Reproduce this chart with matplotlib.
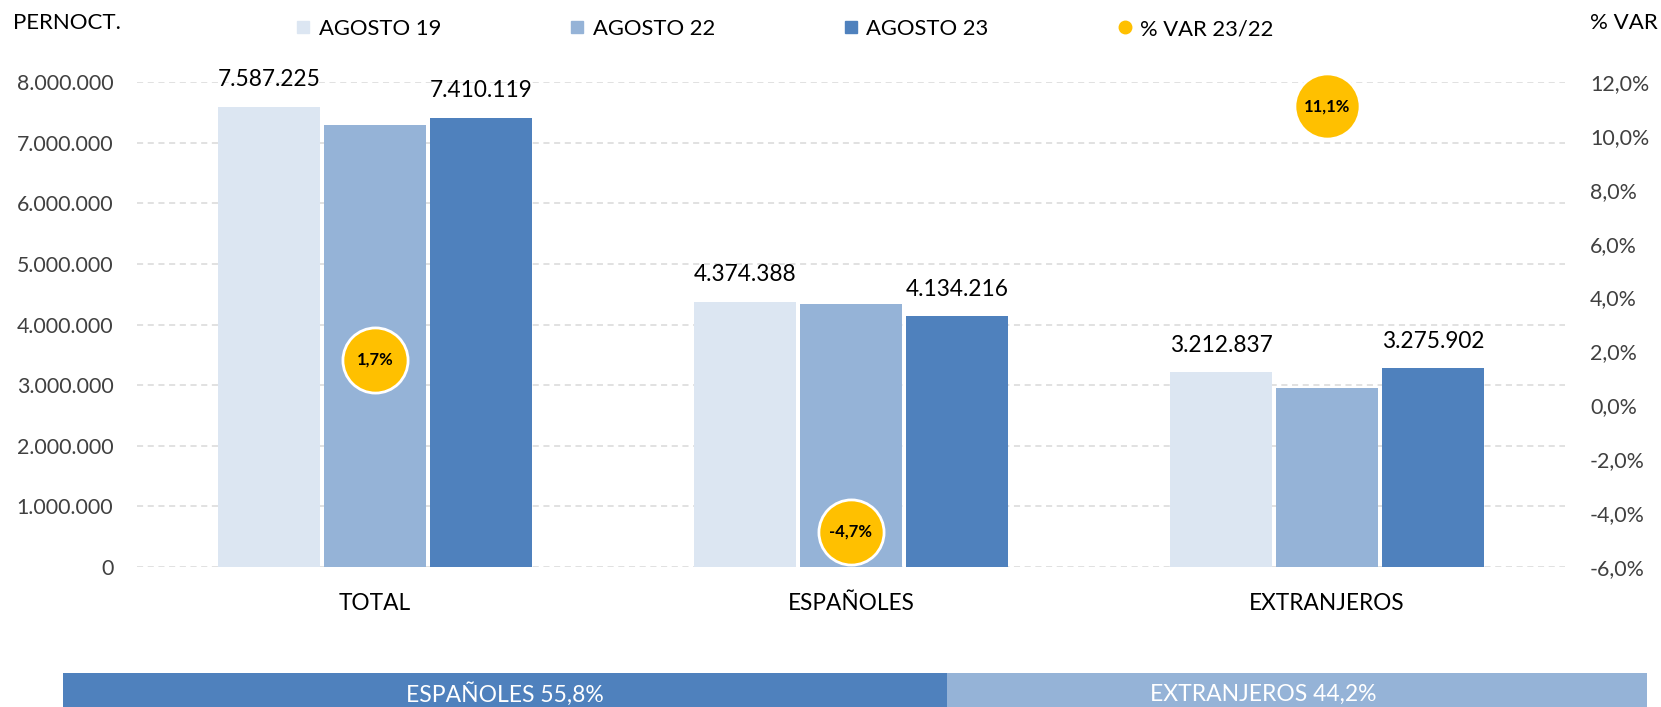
import matplotlib
matplotlib.use("Agg")
import matplotlib.pyplot as plt
from matplotlib.lines import Line2D
import numpy as np

plt.rcParams['font.family'] = ['Lato', 'DejaVu Sans']

categories = ["TOTAL", "ESPAÑOLES", "EXTRANJEROS"]
series_names = ["AGOSTO 19", "AGOSTO 22", "AGOSTO 23"]
ago19 = [7587225, 4374388, 3212837]
ago22 = [7286000, 4338000, 2949000]
ago23 = [7410119, 4134216, 3275902]
var_name = "% VAR 23/22"
var_pct = [1.7, -4.7, 11.1]
share_labels = ["ESPAÑOLES", "EXTRANJEROS"]
share_vals = [55.8, 44.2]

left_ticks = list(range(0, 8000001, 1000000))
right_ticks = list(range(-6, 13, 2))

colors = ["#DCE6F2", "#95B3D7", "#4F81BD"]
gold = "#FFC000"

def fmt_thousands(v):
    return f"{int(v):,}".replace(",", ".")

def fmt_pct(v):
    return f"{v:.1f}%".replace(".", ",")

W, H = 1661, 707
fig = plt.figure(figsize=(W / 100, H / 100), dpi=100)
ax = fig.add_axes([137 / W, 1 - 567 / H, (1565 - 137) / W, (567 - 82) / H])

x = np.arange(len(categories))
off = 0.2227
bw = 0.213
series = [ago19, ago22, ago23]
for i, (vals, c) in enumerate(zip(series, colors)):
    bars = ax.bar(x + (i - 1) * off, vals, bw, color=c, zorder=2)
    if i != 1:
        for b, v in zip(bars, vals):
            ax.annotate(fmt_thousands(v), (b.get_x() + b.get_width() / 2, v),
                        xytext=(0, 12), textcoords="offset points",
                        ha="center", va="bottom", fontsize=16.3,
                        color="black", clip_on=False)

ax.set_xlim(-0.5, 2.5)
ax.set_ylim(0, 8000000)
ax.set_yticks(left_ticks)
ax.set_yticklabels([fmt_thousands(v) for v in left_ticks])
ax.set_xticks(x)
ax.set_xticklabels(categories)
ax.tick_params(axis="x", length=0, pad=19, labelsize=16.3, labelcolor="black")
ax.tick_params(axis="y", length=0, pad=17, labelsize=15.4, labelcolor="#404040")
ax.grid(axis="y", color="#D9D9D9", linestyle=(0, (4, 3)), linewidth=1.1, zorder=0)
for s in ax.spines.values():
    s.set_visible(False)

ax2 = ax.twinx()
ax2.set_ylim(-6, 12)
ax2.set_yticks(right_ticks)
ax2.set_yticklabels([fmt_pct(v) for v in right_ticks])
ax2.tick_params(axis="y", length=0, pad=18, labelsize=15.4, labelcolor="#404040")
for s in ax2.spines.values():
    s.set_visible(False)
ax2.scatter(x, var_pct, s=2200, color=gold, edgecolor="white", linewidth=2,
            zorder=5, clip_on=False)
for xi, v in zip(x, var_pct):
    ax2.text(xi, v, fmt_pct(v), ha="center", va="center", fontsize=12,
             fontweight="bold", color="black", zorder=6)

fig.text(13 / W, 1 - 23 / H, "PERNOCT.", ha="left", va="center", fontsize=16, color="black")
fig.text(1590 / W, 1 - 23 / H, "% VAR", ha="left", va="center", fontsize=16, color="black")

handles = [Line2D([], [], marker="s", linestyle="none", markersize=9, color=c) for c in colors]
handles.append(Line2D([], [], marker="o", linestyle="none", markersize=9, color=gold))
fig.legend(handles, series_names + [var_name], loc="center", ncol=4,
           bbox_to_anchor=(784 / W, 1 - 29 / H), frameon=False, fontsize=15.8,
           handlelength=0.8, handletextpad=0.3, columnspacing=5.8)

# bottom share bar
axb = fig.add_axes([62.5 / W, 0, (1647 - 62.5) / W, 34 / H])
lefts = np.cumsum([0] + share_vals[:-1])
share_colors = ["#4F81BD", "#95B3D7"]
label_shift = [0, -24]
for l, v, c, lab, dx in zip(lefts, share_vals, share_colors, share_labels, label_shift):
    axb.barh(0, v, left=l, height=1, color=c)
    axb.annotate(f"{lab} {fmt_pct(v)}", (l + v / 2, -0.12), xytext=(dx, 0),
                 textcoords="offset points", ha="center", va="center",
                 color="white", fontsize=16.5)
axb.set_xlim(0, sum(share_vals))
axb.set_ylim(-0.5, 0.5)
axb.axis("off")

fig.savefig("out.png", dpi=100)
